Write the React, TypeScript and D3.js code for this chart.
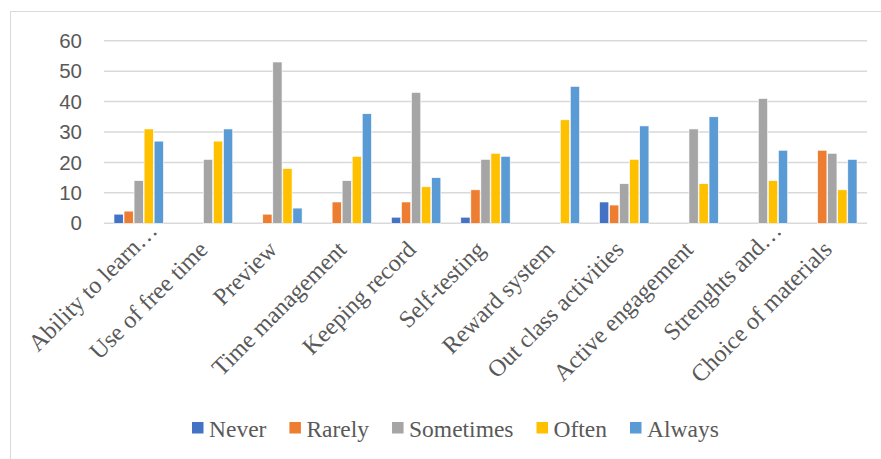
import React from 'react';
import * as d3 from 'd3';

const categories = [
  'Ability to learn…',
  'Use of free time',
  'Preview',
  'Time management',
  'Keeping record',
  'Self-testing',
  'Reward system',
  'Out class activities',
  'Active engagement',
  'Strenghts and…',
  'Choice of materials',
];

const seriesNames = ['Never', 'Rarely', 'Sometimes', 'Often', 'Always'];
const seriesColors = ['#4472C4', '#ED7D31', '#A5A5A5', '#FFC000', '#5B9BD5'];

const never = [3, 0, 0, 0, 2, 2, 0, 7, 0, 0, 0];
const rarely = [4, 0, 3, 7, 7, 11, 0, 6, 0, 0, 24];
const sometimes = [14, 21, 53, 14, 43, 21, 0, 13, 31, 41, 23];
const often = [31, 27, 18, 22, 12, 23, 34, 21, 13, 14, 11];
const always = [27, 31, 5, 36, 15, 22, 45, 32, 35, 24, 21];

const yTicks = [0, 10, 20, 30, 40, 50, 60];

const W = 881;
const H = 459;
const SERIF = 'Liberation Serif';
const SANS = 'Liberation Sans';
const TEXT = '#595959';

// measure legend text so items sit like Excel's
function textWidth(s: string, font: string) {
  const ctx = document.createElement('canvas').getContext('2d');
  if (!ctx) return s.length * 11;
  ctx.font = font;
  return ctx.measureText(s).width;
}

export default function App() {
  const values = [never, rarely, sometimes, often, always];
  const left = 104;
  const right = 867;
  const top = 40.7;
  const bottom = 223.3;

  const x = d3.scaleBand<string>()
    .domain(categories)
    .range([left, right])
    .paddingInner(0.265)
    .paddingOuter(0.1325);

  const xs = d3.scaleBand<string>()
    .domain(seriesNames)
    .range([0, x.bandwidth()])
    .padding(0.08);

  const y = d3.scaleLinear().domain([0, 60]).range([bottom, top]);

  const legendFont = `23.5px "${SERIF}"`;
  let lx = 192;
  const legendItems = seriesNames.map((name, i) => {
    const item = { name, color: seriesColors[i], x: lx };
    lx += 17 + textWidth(name, legendFont) + 23;
    return item;
  });

  return (
    <svg
      width={W}
      height={H}
      style={{ position: 'absolute', left: 0, top: 0, background: '#fff' }}
    >
      {/* chart area frame */}
      <rect x={10.5} y={11.5} width={W + 20} height={H + 20} fill="#fff" stroke="#D9D9D9" />

      {yTicks.map(t => (
        <line key={'g' + t} x1={left} x2={right} y1={y(t)} y2={y(t)} stroke="#D9D9D9" strokeWidth={1.5} />
      ))}

      {yTicks.map(t => (
        <text
          key={'t' + t}
          x={82}
          y={y(t)}
          dy="0.35em"
          textAnchor="end"
          fill={TEXT}
          style={{ fontFamily: SANS, fontSize: '20.5px' }}
        >
          {t}
        </text>
      ))}

      {values.map((vals, si) => (
        <g key={seriesNames[si]}>
          {vals.map((v, i) =>
            v > 0 ? (
              <rect
                key={i}
                x={(x(categories[i]) as number) + (xs(seriesNames[si]) as number)}
                y={y(v)}
                width={xs.bandwidth()}
                height={y(0) - y(v)}
                fill={seriesColors[si]}
                stroke="#fff"
                strokeWidth={0.6}
              />
            ) : null
          )}
        </g>
      ))}

      {categories.map(c => {
        const cx = (x(c) as number) + x.bandwidth() / 2;
        const shift = c.endsWith('…') ? 19 : 0;
        return (
          <text
            key={c}
            transform={`translate(${cx + 1 + shift},${251 - shift}) rotate(-45)`}
            textAnchor="end"
            fill={TEXT}
            style={{ fontFamily: SERIF, fontSize: '24px' }}
          >
            {c}
          </text>
        );
      })}

      {legendItems.map(it => (
        <g key={it.name}>
          <rect x={it.x} y={422} width={11.5} height={11.5} fill={it.color} />
          <text
            x={it.x + 17}
            y={436.5}
            fill={TEXT}
            style={{ fontFamily: SERIF, fontSize: '23.5px' }}
          >
            {it.name}
          </text>
        </g>
      ))}
    </svg>
  );
}
